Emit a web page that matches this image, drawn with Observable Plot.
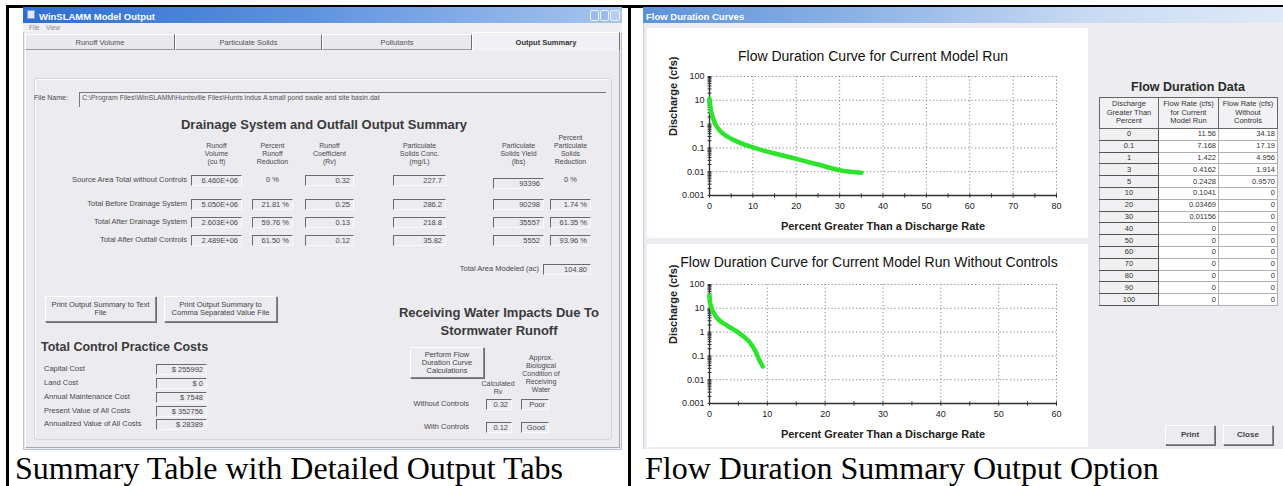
<!DOCTYPE html>
<html>
<head>
<meta charset="utf-8">
<script src="https://cdn.jsdelivr.net/npm/d3@7"></script>
<script src="https://cdn.jsdelivr.net/npm/@observablehq/plot@0.6"></script>
<style>
html, body { margin: 0; padding: 0; background: #fff; }
#page { position: relative; width: 1283px; height: 486px; overflow: hidden; background: #fff;
  font-family: "Liberation Sans", Arial, sans-serif; color: #444; }
.abs { position: absolute; box-sizing: border-box; }
.t { position: absolute; white-space: pre; font-size: 7.5px; line-height: 8px; color: #4a4a4a; }
.tb { border-top: 1px solid #6a6a6a; border-left: 1px solid #6a6a6a; border-right: 1px solid #fafafa; border-bottom: 1px solid #fafafa;
  font-size: 7.5px; line-height: 9px; text-align: right; padding-right: 3px; color: #4a4a4a; white-space: nowrap; overflow: hidden; }
.btn { border-top: 1px solid #fff; border-left: 1px solid #fff; border-right: 1px solid #8a8a8a; border-bottom: 1px solid #8a8a8a;
  box-shadow: 1px 1px 0 #6a6a6a; background: #ecebf0; text-align: center; font-size: 7.5px; line-height: 8px; color: #444;
  display: flex; align-items: center; justify-content: center; white-space: pre; }
table.fd { position: absolute; border-collapse: collapse; font-family: "Liberation Sans Narrow", "Liberation Sans", Arial, sans-serif;
  font-size: 7.5px; color: #333; table-layout: fixed; border: 1.5px solid #444; }
table.fd td, table.fd th { padding: 0 2px; box-sizing: border-box; overflow: hidden; white-space: nowrap; }
table.fd th { font-weight: normal; background: #f2f2f4; border: 1px solid #666; white-space: pre; line-height: 8.5px; text-align: center; }
table.fd td { border: 1px solid #b0b0b0; background: #fff; text-align: right; height: 11.8px; line-height: 10px; }
table.fd td.first { background: #f0f0f2; text-align: center; border-bottom: 1.5px solid #555; border-right: 1.5px solid #555; }
</style>
</head>
<body>
<div id="page"></div>
<script>
// ---------------- data ----------------
const windowTitles = ["WinSLAMM Model Output", "Flow Duration Curves"];
const menuItems = ["File", "View"];
const tabs = ["Runoff Volume", "Particulate Solids", "Pollutants", "Output Summary"];
const fileLabel = "File Name:";
const fileName = "C:\\Program Files\\WinSLAMM\\Huntsville Files\\Hunts indus A small pond swale and site basin.dat";
const summaryTitle = "Drainage System and Outfall Output Summary";
const summaryHeaders = ["Runoff\nVolume\n(cu ft)", "Percent\nRunoff\nReduction", "Runoff\nCoefficient\n(Rv)",
  "Particulate\nSolids Conc.\n(mg/L)", "Particulate\nSolids Yield\n(lbs)", "Percent\nParticulate\nSolids\nReduction"];
const summaryRows = ["Source Area Total without Controls", "Total Before Drainage System", "Total After Drainage System", "Total After Outfall Controls"];
const runoffVolume = ["6.460E+06", "5.050E+06", "2.603E+06", "2.489E+06"];
const runoffReduction = ["0 %", "21.81 %", "59.76 %", "61.50 %"];
const runoffCoef = ["0.32", "0.25", "0.13", "0.12"];
const solidsConc = ["227.7", "286.2", "218.8", "35.82"];
const solidsYield = ["93396", "90298", "35557", "5552"];
const solidsReduction = ["0 %", "1.74 %", "61.35 %", "93.96 %"];
const areaLabel = "Total Area Modeled (ac)";
const areaValue = "104.80";
const printButtons = ["Print Output Summary to Text\nFile", "Print Output Summary to\nComma Separated Value File"];
const costTitle = "Total Control Practice Costs";
const costLabels = ["Capital Cost", "Land Cost", "Annual Maintenance Cost", "Present Value of All Costs", "Annualized Value of All Costs"];
const costValues = ["$ 255992", "$ 0", "$ 7548", "$ 352756", "$ 28389"];
const impactTitle = ["Receiving Water Impacts Due To", "Stormwater Runoff"];
const performButton = "Perform Flow\nDuration Curve\nCalculations";
const impactHeaders = ["Calculated\nRv", "Approx.\nBiological\nCondition of\nReceiving\nWater"];
const impactRows = ["Without Controls", "With Controls"];
const impactRv = ["0.32", "0.12"];
const impactCondition = ["Poor", "Good"];
const captions = ["Summary Table with Detailed Output Tabs", "Flow Duration Summary Output Option"];

const chartTitles = ["Flow Duration Curve for Current Model Run", "Flow Duration Curve for Current Model Run Without Controls"];
const xLabel = "Percent Greater Than a Discharge Rate";
const yLabel = "Discharge (cfs)";
const yTicks = [0.001, 0.01, 0.1, 1, 10, 100];
const yTickLabels = ["0.001", "0.01", "0.1", "1", "10", "100"];
const xTicksTop = [0, 10, 20, 30, 40, 50, 60, 70, 80];
const xTicksBottom = [0, 10, 20, 30, 40, 50, 60];
// curves (table values + curve reading)
const pctCurrent = [0, 0.1, 1, 2, 3, 5, 10, 15, 20, 25, 30, 35];
const flowCurrent = [11.56, 7.168, 1.422, 0.65, 0.4162, 0.2428, 0.1041, 0.058, 0.03469, 0.02, 0.01156, 0.009];
const pctWithout = [0, 0.1, 1, 3, 5, 6, 7, 8, 8.5, 9.2];
const flowWithout = [34.18, 17.19, 4.956, 1.914, 0.957, 0.62, 0.36, 0.15, 0.075, 0.036];

const tableTitle = "Flow Duration Data";
const tableHeaders = ["Discharge\nGreater Than\nPercent", "Flow Rate (cfs)\nfor Current\nModel Run", "Flow Rate (cfs)\nWithout\nControls"];
const tablePercent = ["0", "0.1", "1", "3", "5", "10", "20", "30", "40", "50", "60", "70", "80", "90", "100"];
const tableCurrent = ["11.56", "7.168", "1.422", "0.4162", "0.2428", "0.1041", "0.03469", "0.01156", "0", "0", "0", "0", "0", "0", "0"];
const tableWithout = ["34.18", "17.19", "4.956", "1.914", "0.9570", "0", "0", "0", "0", "0", "0", "0", "0", "0", "0"];
const dialogButtons = ["Print", "Close"];

// ---------------- helpers ----------------
const page = document.getElementById("page");
function box(x, y, w, h, css = {}, text = null, cls = "") {
  const d = document.createElement("div");
  d.className = "abs " + cls;
  Object.assign(d.style, {left: x + "px", top: y + "px", width: w + "px", height: h + "px"}, css);
  if (text != null) d.textContent = text;
  page.appendChild(d);
  return d;
}
function label(x, y, text, opt = {}) {
  const d = document.createElement("div");
  d.className = "t";
  d.textContent = text;
  const a = opt.anchor || "start";
  const W = 400;
  const css = {top: y + "px"};
  if (a === "start") css.left = x + "px";
  else if (a === "end") { css.left = (x - W) + "px"; css.width = W + "px"; css.textAlign = "right"; }
  else { css.left = (x - W / 2) + "px"; css.width = W + "px"; css.textAlign = "center"; }
  if (opt.size) css.fontSize = opt.size + "px";
  if (opt.lh) css.lineHeight = opt.lh + "px";
  if (opt.weight) css.fontWeight = opt.weight;
  if (opt.color) css.color = opt.color;
  if (opt.family) css.fontFamily = opt.family;
  Object.assign(d.style, css);
  page.appendChild(d);
  return d;
}
function textBox(x0, x1, yc, text, css = {}) {
  return box(x0, yc - 5.5, x1 - x0, 11, css, text, "tb");
}

// ---------------- outer frame ----------------
box(6, 5, 1277, 2.5, {background: "#000"});
box(6, 5, 2.5, 481, {background: "#000"});
box(628, 5, 2.5, 481, {background: "#000"});

// ---------------- left window ----------------
box(23, 7, 599, 443, {background: "#ecebf0", border: "1px solid #b8c4da"});
box(23, 7, 599, 16, {background: "linear-gradient(to right, #2e6ed2 0%, #5b90de 45%, #a8c5ee 100%)"});
box(27, 10, 8, 9, {background: "#dfe9f7", border: "1px solid #7ea3d8"});
label(39, 10.5, windowTitles[0], {size: 9.5, weight: "bold", color: "#fff", lh: 11});
box(590, 9.5, 9, 11, {background: "#9dbbe6", border: "1px solid #e8f0fb", borderRadius: "2px"});
box(600, 9.5, 9, 11, {background: "#9dbbe6", border: "1px solid #e8f0fb", borderRadius: "2px"});
box(610, 9.5, 10, 11, {background: "#b7cdef", border: "1px solid #e8f0fb", borderRadius: "2px"});
box(23, 23, 599, 9, {background: "#efeef2"});
label(29, 24, menuItems[0], {size: 6.5, color: "#888"});
label(46, 24, menuItems[1], {size: 6.5, color: "#888"});
const tabEdges = [25, 175, 322, 472, 620];
tabs.forEach((t, i) => {
  const sel = i === tabs.length - 1;
  const x0 = tabEdges[i], x1 = tabEdges[i + 1];
  box(x0, sel ? 32 : 34, x1 - x0, sel ? 19 : 16, {
    background: sel ? "#f1f0f4" : "#e9e8ed",
    borderTop: "1px solid #fff", borderLeft: "1px solid #fff", borderRight: "1.5px solid #6f6f6f",
    borderBottom: sel ? "none" : "1px solid #9a9a9a"
  });
  label((x0 + x1) / 2, 38.5, t, {anchor: "middle", size: 7.5, weight: sel ? "bold" : "normal", color: sel ? "#333" : "#555"});
});
box(25, 50, 595, 398, {borderLeft: "1px solid #fff", borderRight: "1px solid #a9a9b0", borderBottom: "1px solid #a9a9b0"});
box(34, 78, 578, 362, {border: "1px solid #d4d4da", borderRadius: "3px", boxShadow: "inset 1px 1px 0 #fff"});
label(34, 93.5, fileLabel, {size: 7});
box(79, 92, 527, 15, {borderTop: "1px solid #777", borderLeft: "1px solid #777"});
label(82, 93.5, fileName, {size: 7, color: "#555"});
label(324, 118, summaryTitle, {anchor: "middle", size: 13, weight: "bold", color: "#3a3a3a", lh: 14});
const colX = [[191, 242], [252, 293], [305, 354], [393, 446], [493, 544], [550, 591]];
summaryHeaders.forEach((h, i) => {
  const n = h.split("\n").length;
  label((colX[i][0] + colX[i][1]) / 2, 166 - n * 8, h, {anchor: "middle", size: 7, lh: 8});
});
const rowY = [180, 204, 222, 240];
const cols = [runoffVolume, runoffReduction, runoffCoef, solidsConc, solidsYield, solidsReduction];
summaryRows.forEach((r, j) => {
  label(187, rowY[j] - 4, r, {anchor: "end", size: 7.5});
  cols.forEach((col, i) => {
    const [x0, x1] = colX[i];
    if (j === 0 && (i === 1 || i === 5)) {
      label((x0 + x1) / 2, rowY[j] - 4, col[j], {anchor: "middle", size: 7.5});
    } else {
      textBox(x0, x1, rowY[j] + (j === 0 && i === 4 ? 3 : 0), col[j]);
    }
  });
});
label(539, 265, areaLabel, {anchor: "end", size: 7.5});
textBox(543, 591, 269, areaValue);
box(45, 296, 111, 26, {}, printButtons[0], "btn");
box(164, 296, 113, 26, {}, printButtons[1], "btn");
label(499, 306, impactTitle[0], {anchor: "middle", size: 13, weight: "bold", color: "#3a3a3a", lh: 14});
label(499, 324, impactTitle[1], {anchor: "middle", size: 13, weight: "bold", color: "#3a3a3a", lh: 14});
box(410, 347, 74, 31, {}, performButton, "btn");
label(498, 380, impactHeaders[0], {anchor: "middle", size: 7, lh: 8});
label(541, 354, impactHeaders[1], {anchor: "middle", size: 7, lh: 8});
impactRows.forEach((r, j) => {
  const yc = [404, 427][j];
  label(469, yc - 4, r, {anchor: "end", size: 7.5});
  textBox(486, 512, yc, impactRv[j]);
  textBox(521, 549, yc, impactCondition[j]);
});
label(41, 340, costTitle, {size: 12.5, weight: "bold", color: "#3a3a3a", lh: 14});
const costY = [369, 383, 397, 411, 424];
costLabels.forEach((c, j) => {
  label(44, costY[j] - 4, c, {size: 7.5});
  textBox(156, 207, costY[j], costValues[j]);
});

// ---------------- right window ----------------
box(643, 7, 640, 442, {background: "#ededf1", borderLeft: "1px solid #c7cfe0"});
box(643, 7, 640, 16, {background: "linear-gradient(to right, #5c92d8 0%, #8fb4e6 35%, #c9dbf3 70%, #dfe9f7 100%)"});
label(646, 10.5, windowTitles[1], {size: 9.5, weight: "bold", color: "#fff", lh: 11});

function flowChart(cfg) {
  const data = cfg.pct.map((p, i) => ({p, q: cfg.flow[i]}));
  const xMax = cfg.xTicks[cfg.xTicks.length - 1];
  const minorX = d3.ticks(0, xMax, xMax / 5);
  const minorY = d3.scaleLog().domain([yTicks[0], yTicks[yTicks.length - 1]]).ticks();
  const vDash = {draw(c, s) { const r = Math.sqrt(s / Math.PI); c.moveTo(0, -r); c.lineTo(0, r); }};
  const hDash = {draw(c, s) { const r = Math.sqrt(s / Math.PI); c.moveTo(-r, 0); c.lineTo(r, 0); }};
  const grid = {stroke: "#7a7a7a", strokeWidth: 0.9, strokeDasharray: "1.2,2.3"};
  const svg = Plot.plot({
    width: cfg.w, height: cfg.h,
    marginLeft: cfg.ml, marginRight: cfg.mr, marginTop: cfg.mt, marginBottom: cfg.mb,
    style: {background: "#fff", fontFamily: '"Liberation Sans Narrow", "Liberation Sans", Arial, sans-serif', fontSize: "9px", color: "#222", overflow: "visible"},
    x: {domain: [cfg.xTicks[0], xMax], ticks: cfg.xTicks, tickFormat: d => String(d), tickSize: 0, tickPadding: 7, label: null},
    y: {type: "log", domain: [yTicks[0], yTicks[yTicks.length - 1]], ticks: yTicks,
        tickFormat: d => yTickLabels[yTicks.indexOf(d)], tickSize: 0, tickPadding: 5, label: null},
    marks: [
      Plot.ruleX(cfg.xTicks.slice(1), {x: d => d, ...grid}),
      Plot.ruleY(yTicks.slice(1), {y: d => d, ...grid}),
      Plot.ruleX([cfg.xTicks[0]], {x: d => d, stroke: "#333", strokeWidth: 1.4}),
      Plot.ruleY([yTicks[0]], {y: d => d, stroke: "#333", strokeWidth: 1.4}),
      Plot.dot(minorX, {x: d => d, y: () => yTicks[0], symbol: vDash, r: 2.2, stroke: "#333", strokeWidth: 1}),
      Plot.dot(minorY, {x: () => cfg.xTicks[0], y: d => d, symbol: hDash, r: 2, stroke: "#333", strokeWidth: 1}),
      Plot.line(data, {x: "p", y: "q", stroke: "#2be42b", strokeWidth: 4.5, curve: "monotone-x", strokeLinecap: "round", strokeLinejoin: "round"}),
      Plot.text([cfg.title], {text: d => d, frameAnchor: "top", lineAnchor: "middle", dy: cfg.titleDy, dx: cfg.titleDx, fontSize: 14, fill: "#111", fontFamily: '"Liberation Sans", Arial, sans-serif'}),
      Plot.text([xLabel], {text: d => d, frameAnchor: "bottom", lineAnchor: "middle", dy: 31, fontSize: 11, fontWeight: "bold", fill: "#222", fontFamily: '"Liberation Sans", Arial, sans-serif'}),
      Plot.text([yLabel], {text: d => d, frameAnchor: "left", dx: -36, rotate: -90, fontSize: 11, fontWeight: "bold", fill: "#222", fontFamily: '"Liberation Sans", Arial, sans-serif'})
    ]
  });
  const wrap = box(cfg.x, cfg.y, cfg.w, cfg.h, {background: "#fff"});
  wrap.appendChild(svg);
  svg.style.position = "absolute";
  svg.style.left = "0px";
  svg.style.top = "0px";
}
flowChart({x: 647, y: 28, w: 441, h: 210, ml: 62, mr: 32, mt: 48, mb: 43,
  xTicks: xTicksTop, pct: pctCurrent, flow: flowCurrent, title: chartTitles[0], titleDy: -20, titleDx: -10});
flowChart({x: 647, y: 244, w: 441, h: 203, ml: 62, mr: 32, mt: 40, mb: 44,
  xTicks: xTicksBottom, pct: pctWithout, flow: flowWithout, title: chartTitles[1], titleDy: -22, titleDx: -14});

label(1188, 80, tableTitle, {anchor: "middle", size: 12.5, weight: "bold", color: "#2a2a2a", lh: 14});
const tbl = document.createElement("table");
tbl.className = "fd";
Object.assign(tbl.style, {left: "1099px", top: "97px", width: "178px"});
const colgroup = document.createElement("colgroup");
[59, 60, 59].forEach(w => { const c = document.createElement("col"); c.style.width = w + "px"; colgroup.appendChild(c); });
tbl.appendChild(colgroup);
const thr = document.createElement("tr");
tableHeaders.forEach(h => { const th = document.createElement("th"); th.textContent = h; th.style.height = "31px"; thr.appendChild(th); });
tbl.appendChild(thr);
tablePercent.forEach((p, i) => {
  const tr = document.createElement("tr");
  [p, tableCurrent[i], tableWithout[i]].forEach((v, k) => {
    const td = document.createElement("td");
    td.textContent = v;
    if (k === 0) td.className = "first";
    tr.appendChild(td);
  });
  tbl.appendChild(tr);
});
page.appendChild(tbl);
box(1165, 425, 50, 20, {fontWeight: "bold", fontSize: "8px"}, dialogButtons[0], "btn");
box(1223, 425, 50, 20, {fontWeight: "bold", fontSize: "8px"}, dialogButtons[1], "btn");

// ---------------- captions ----------------
label(15, 452, captions[0], {size: 32, lh: 32, color: "#000", family: '"Liberation Serif", "Times New Roman", serif'});
label(645, 452, captions[1], {size: 32, lh: 32, color: "#000", family: '"Liberation Serif", "Times New Roman", serif'});
</script>
</body>
</html>
